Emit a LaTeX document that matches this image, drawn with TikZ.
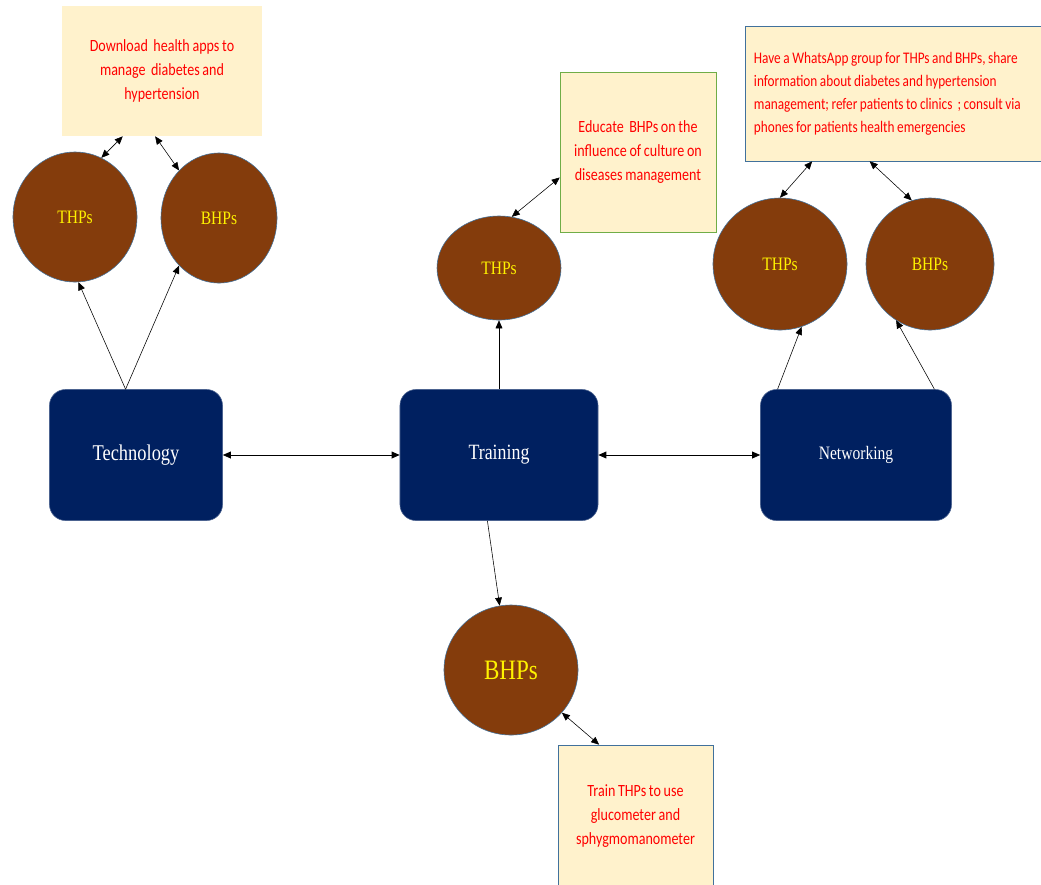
\documentclass[tikz,border=0pt]{standalone}
\usepackage{fontspec}
\setmainfont{Liberation Serif}[FakeStretch=0.82]
\newfontfamily\notefont{Carlito}[FakeStretch=0.82, WordSpace=0.85]
\usepackage{tikz}
\usetikzlibrary{shapes.geometric}
\usetikzlibrary{arrows.meta}
\definecolor{hpbrown}{HTML}{843C0C}
\definecolor{hpedge}{HTML}{41719C}
\definecolor{hpnavy}{HTML}{002060}
\definecolor{hpcream}{HTML}{FFF2CC}
\definecolor{hpgreen}{HTML}{70AD47}
\tikzset{
  hpcirc/.style={ellipse, draw=hpedge, fill=hpbrown, text=yellow, inner sep=0pt, font=\fontsize{13.5}{15}\selectfont},
  pillar/.style={rounded corners=0.4cm, fill=hpnavy, draw=hpnavy!70!white, text=white, minimum height=3.275cm},
  note/.style={fill=hpcream, text=red, align=center, inner sep=0pt, font=\notefont\fontsize{12.2}{17}\selectfont},
}
\begin{document}
\begin{tikzpicture}[x=0.025cm, y=-0.025cm, >={Triangle[length=2mm,width=1.7mm]}]
      \clip (0,0) rectangle (1041,884); %page size

      %PILLARS
      \node[pillar, minimum width=4.325cm, font=\fontsize{16}{18}\selectfont] (tech) at (136,455) {Technology};
      \node[pillar, minimum width=4.95cm, font=\fontsize{15.5}{17}\selectfont] (train) at (499,455) {Training};
      \node[pillar, minimum width=4.775cm, font=\fontsize{13.5}{15}\selectfont] (net) at (856,455) {Networking};
      \draw[<->, semithick] (tech.east) -- (train.west);
      \draw[<->, semithick] (train.east) -- (net.west);

      %TECHNOLOGY
      \node[hpcirc, minimum width=3.1cm, minimum height=3.25cm] (thpT) at (75,217) {THPs};
      \node[hpcirc, minimum width=2.9cm, minimum height=3.25cm] (bhpT) at (219,218) {BHPs};
      \node[note, minimum width=5cm, minimum height=3.25cm] (dl) at (162,71)
        {Download\ \ health apps to\\ manage\ \ diabetes and\\ hypertension};
      \draw[->] (tech.99) -- (thpT.273);
      \draw[->] (tech.99) -- (bhpT.230);
      \draw[<->] (dl.239) -- (thpT.66);
      \draw[<->] (dl.264) -- (bhpT.130);

      %TRAINING
      \node[hpcirc, minimum width=3.1cm, minimum height=2.6cm] (thpM) at (499,268) {THPs};
      \node[note, draw=hpgreen, minimum width=3.9cm, minimum height=4cm] (ed) at (638,152)
        {Educate\ \ BHPs on the\\ influence of culture on\\ diseases management};
      \draw[->] (train.north) -- (thpM.south);
      \draw[<->] (thpM.76) -- (ed.198);

      \node[hpcirc, minimum width=3.35cm, minimum height=3.25cm, font=\fontsize{20}{22}\selectfont] (bhpB) at (511,670) {BHPs};
      \node[note, draw=hpedge, minimum width=3.875cm, minimum height=3.55cm] (tb) at (635.5,816)
        {Train THPs to use\\ glucometer and\\ sphygmomanometer};
      \draw[->] (train.260) -- (bhpB.100);
      \draw[<->] (bhpB.320) -- (tb.117);

      %NETWORKING
      \node[hpcirc, minimum width=3.35cm, minimum height=3.3cm] (thpN) at (780,264) {THPs};
      \node[hpcirc, minimum width=3.2cm, minimum height=3.3cm] (bhpN) at (930,264) {BHPs};
      \node[note, draw=hpedge, align=flush left, text width=6.95cm, inner xsep=0.225cm, minimum height=3.375cm,
            font=\notefont\fontsize{11.5}{16.3}\selectfont] (wa) at (893,93.5)
        {Have a WhatsApp group for THPs and BHPs, share\\ information about diabetes and hypertension\\ management; refer patients to clinics\ \ ; consult via\\ phones for patients health emergencies};
      \draw[->] (net.140) -- (thpN.289);
      \draw[->] (net.40) -- (bhpN.239);
      \draw[<->] (wa.220) -- (thpN.north);
      \draw[<->] (wa.251) -- (bhpN.106);
\end{tikzpicture}
\end{document}
